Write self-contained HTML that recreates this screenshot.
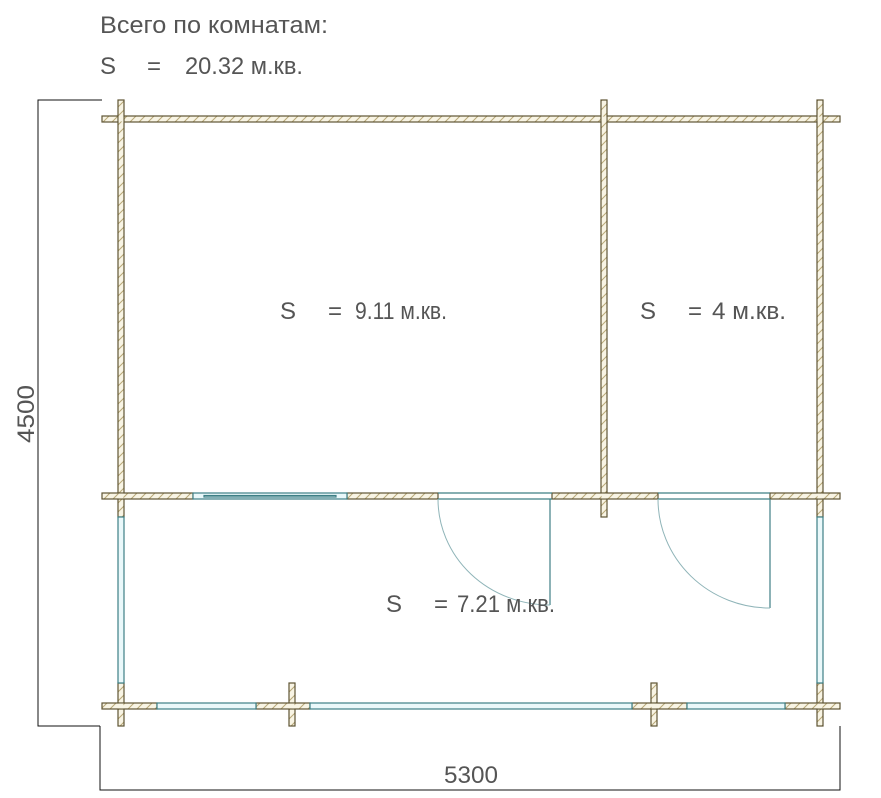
<!DOCTYPE html>
<html><head><meta charset="utf-8"><style>
html,body{margin:0;padding:0;background:#fff;}
svg{display:block;}
text{font-family:"Liberation Sans","DejaVu Sans",sans-serif;fill:#555;font-weight:normal;}
</style></head><body>
<svg width="881" height="798" viewBox="0 0 881 798" xmlns="http://www.w3.org/2000/svg">
<defs>
<pattern id="h" patternUnits="userSpaceOnUse" width="9" height="9">
<rect width="9" height="9" fill="#f8f4e4"/>
<path d="M0 9 L9 0 M-2 2 L2 -2 M7 11 L11 7" stroke="#b8a878" stroke-width="1"/>
</pattern>
</defs>
<g fill="url(#h)" stroke="#5e5434" stroke-width="1.2">
<rect x="102" y="116" width="738" height="6"/>
<rect x="118" y="100" width="6" height="417"/>
<rect x="601" y="100" width="6" height="417"/>
<rect x="817" y="100" width="6" height="417"/>
<rect x="102" y="493" width="91" height="6"/>
<rect x="347" y="493" width="91" height="6"/>
<rect x="552" y="493" width="106" height="6"/>
<rect x="770" y="493" width="70" height="6"/>
<rect x="118" y="683" width="6" height="43"/>
<rect x="289" y="683" width="6" height="43"/>
<rect x="651" y="683" width="6" height="43"/>
<rect x="817" y="683" width="6" height="43"/>
<rect x="102" y="703" width="55" height="6"/>
<rect x="256" y="703" width="54" height="6"/>
<rect x="632" y="703" width="55" height="6"/>
<rect x="785" y="703" width="55" height="6"/>
</g>
<g fill="#f8f4e4">
<rect x="118.6" y="116.6" width="4.8" height="4.8"/>
<rect x="601.6" y="116.6" width="4.8" height="4.8"/>
<rect x="817.6" y="116.6" width="4.8" height="4.8"/>
<rect x="118.6" y="493.6" width="4.8" height="4.8"/>
<rect x="601.6" y="493.6" width="4.8" height="4.8"/>
<rect x="817.6" y="493.6" width="4.8" height="4.8"/>
<rect x="118.6" y="703.6" width="4.8" height="4.8"/>
<rect x="289.6" y="703.6" width="4.8" height="4.8"/>
<rect x="651.6" y="703.6" width="4.8" height="4.8"/>
<rect x="817.6" y="703.6" width="4.8" height="4.8"/>
</g>
<g fill="#eaf8fa" stroke="#3e7f85" stroke-width="1.2">
<rect x="193" y="493" width="154" height="6"/>
<rect x="204" y="495.5" width="132" height="1.5"/>
<rect x="157" y="703" width="99" height="6"/>
<rect x="310" y="703" width="322" height="6"/>
<rect x="687" y="703" width="98" height="6"/>
<rect x="118" y="517" width="6" height="166"/>
<rect x="817" y="517" width="6" height="166"/>
</g>
<g fill="none" stroke="#3e7f85" stroke-width="1.2">
<line x1="438" y1="493" x2="552" y2="493"/>
<line x1="438" y1="499" x2="552" y2="499"/>
<line x1="550" y1="499" x2="550" y2="605"/>
<line x1="658" y1="493" x2="770" y2="493"/>
<line x1="658" y1="499" x2="770" y2="499"/>
<line x1="770" y1="499" x2="770" y2="608"/>
</g>
<g fill="none" stroke="#8fb4b8" stroke-width="1">
<path d="M438 499 A112 106 0 0 0 550 605"/>
<path d="M658 499 A112 109 0 0 0 770 608"/>
</g>
<g stroke="#111" stroke-width="1" fill="none">
<polyline points="102,100 38,100 38,726 100,726"/>
<polyline points="100,726 100,790 840,790 840,726"/>
</g>
<text x="100" y="33" font-size="24" textLength="228" lengthAdjust="spacingAndGlyphs">Всего по комнатам:</text>
<text x="100" y="74" font-size="24">S</text>
<text x="147" y="74" font-size="24">=</text>
<text x="185" y="74" font-size="24" textLength="118" lengthAdjust="spacingAndGlyphs">20.32 м.кв.</text>
<text x="280" y="319" font-size="24">S</text>
<text x="328" y="319" font-size="24">=</text>
<text x="355" y="319" font-size="24" textLength="92" lengthAdjust="spacingAndGlyphs">9.11 м.кв.</text>
<text x="640" y="319" font-size="24">S</text>
<text x="688" y="319" font-size="24">=</text>
<text x="712" y="319" font-size="24" textLength="74" lengthAdjust="spacingAndGlyphs">4 м.кв.</text>
<text x="386" y="612" font-size="24">S</text>
<text x="434" y="612" font-size="24">=</text>
<text x="457" y="612" font-size="24" textLength="98" lengthAdjust="spacingAndGlyphs">7.21 м.кв.</text>
<text x="444" y="783" font-size="24" textLength="54" lengthAdjust="spacingAndGlyphs">5300</text>
<text transform="translate(34,443) rotate(-90)" font-size="24" textLength="58" lengthAdjust="spacingAndGlyphs">4500</text>
</svg>
</body></html>
